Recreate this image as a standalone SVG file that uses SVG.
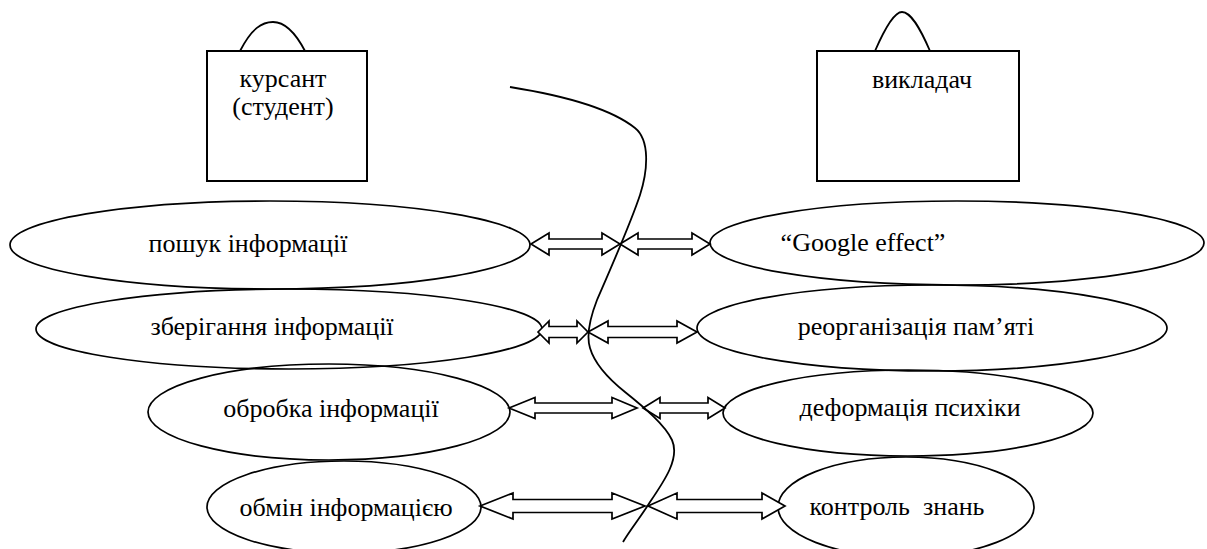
<svg xmlns="http://www.w3.org/2000/svg" width="1207" height="549" viewBox="0 0 1207 549">
<style>
.sh{fill:none;stroke:#000;stroke-width:1.8}
.box{fill:#fff;stroke:#000;stroke-width:2}
.el{fill:none;stroke:#000;stroke-width:1.7}
.ar{fill:#fff;stroke:#000;stroke-width:1.7;stroke-linejoin:miter}
.t{font-size:26px;fill:#000;text-anchor:middle}
</style>
<rect width="1207" height="549" fill="#fff"/>
<g id="node-kursant" font-family="'Liberation Serif', 'Times New Roman', 'DejaVu Serif', serif">
<path class="sh" d="M240,51 C252,28 262,22 273,22 C284,22 294,30 305,51"/>
<rect class="box" x="207" y="51" width="160" height="130"/>
<text class="t" x="283" y="87">курсант</text>
<text class="t" x="283" y="115">(студент)</text>
</g>
<g id="node-vykladach" font-family="'Liberation Serif', 'Times New Roman', 'DejaVu Serif', serif">
<path class="sh" d="M875,51 C885,28 894,12 902,12 C911,12 920,28 930,51"/>
<rect class="box" x="817" y="51" width="202" height="130"/>
<text class="t" x="922" y="88">викладач</text>
</g>
<g id="node-poshuk" font-family="'Liberation Serif', 'Times New Roman', 'DejaVu Serif', serif"><ellipse class="el" cx="270" cy="245" rx="260" ry="44"/><text class="t" x="248" y="252">пошук інформації</text></g>
<g id="node-zberigannya" font-family="'Liberation Serif', 'Times New Roman', 'DejaVu Serif', serif"><ellipse class="el" cx="289" cy="329" rx="253" ry="40"/><text class="t" x="272" y="335">зберігання інформації</text></g>
<g id="node-obrobka" font-family="'Liberation Serif', 'Times New Roman', 'DejaVu Serif', serif"><ellipse class="el" cx="329" cy="412" rx="181" ry="48"/><text class="t" x="331" y="417">обробка інформації</text></g>
<g id="node-obmin" font-family="'Liberation Serif', 'Times New Roman', 'DejaVu Serif', serif"><ellipse class="el" cx="344" cy="507" rx="137" ry="46"/><text class="t" x="346" y="516">обмін інформацією</text></g>
<g id="node-google" font-family="'Liberation Serif', 'Times New Roman', 'DejaVu Serif', serif"><ellipse class="el" cx="957" cy="243" rx="247" ry="42"/><text class="t" x="863" y="251">“Google effect”</text></g>
<g id="node-reorg" font-family="'Liberation Serif', 'Times New Roman', 'DejaVu Serif', serif"><ellipse class="el" cx="932" cy="328" rx="235" ry="43"/><text class="t" x="916" y="335">реорганізація пам’яті</text></g>
<g id="node-deform" font-family="'Liberation Serif', 'Times New Roman', 'DejaVu Serif', serif"><ellipse class="el" cx="908" cy="413" rx="185" ry="43"/><text class="t" x="910" y="416">деформація психіки</text></g>
<g id="node-kontrol" font-family="'Liberation Serif', 'Times New Roman', 'DejaVu Serif', serif"><ellipse class="el" cx="906" cy="507" rx="128" ry="50"/><text class="t" x="897" y="515" xml:space="preserve">контроль  знань</text></g>
<g id="connectors">
<polygon class="ar" points="531,244 549,233 549,239 602,239 602,233 620,244 602,255 602,249 549,249 549,255"/>
<polygon class="ar" points="620,244 638,233 638,239 692,239 692,233 710,244 692,255 692,249 638,249 638,255"/>
<polygon class="ar" points="538,332 549,321 549,326.5 577,326.5 577,321 588,332 577,343 577,337.5 549,337.5 549,343"/>
<polygon class="ar" points="588,332 608,321 608,326.5 677,326.5 677,321 697,332 677,343 677,337.5 608,337.5 608,343"/>
<polygon class="ar" points="509,408 535,397.5 535,403 612,403 612,397.5 637,408 612,418.5 612,413 535,413 535,418.5"/>
<polygon class="ar" points="643,408 660,397.5 660,403 708,403 708,397.5 725,408 708,418.5 708,413 660,413 660,418.5"/>
<polygon class="ar" points="480,506 513,493 513,499.5 612,499.5 612,493 645,506 612,519 612,512.5 513,512.5 513,519"/>
<polygon class="ar" points="648,506 677,493 677,499.5 762,499.5 762,493 785,506 762,519 762,512.5 677,512.5 677,519"/>
<path class="sh" d="M510,87 C560,95 610,108 635,128 C650,140 648,170 640,195 C630,225 610,270 597,300 C590,318 586,335 590,348 C595,365 610,380 625,392 C645,408 665,425 672,440 C680,458 665,480 650,502 C640,518 630,530 623,542"/>
</g>
</svg>
